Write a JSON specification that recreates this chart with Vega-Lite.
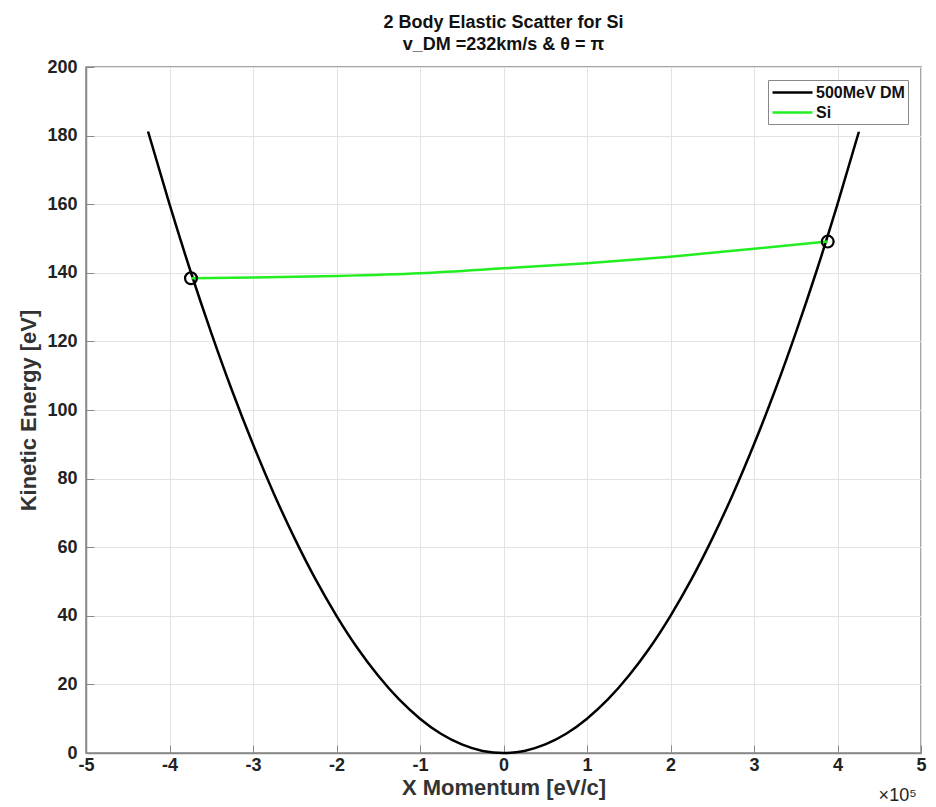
{
  "$schema": "https://vega.github.io/schema/vega-lite/v6.json",
  "autosize": "none",
  "width": 835,
  "height": 686,
  "padding": {"left": 86, "top": 67, "right": 15, "bottom": 54},
  "background": "white",
  "config": {
    "font": "Liberation Sans",
    "view": {"stroke": "#888888", "strokeWidth": 1.5},
    "axis": {
      "labelFont": "Liberation Sans",
      "labelFontWeight": "bold",
      "labelFontSize": 18,
      "labelColor": "#222222",
      "titleFont": "Liberation Sans",
      "titleFontWeight": "bold",
      "titleFontSize": 22,
      "titleColor": "#333333",
      "gridColor": "#e3e3e3",
      "gridWidth": 1,
      "domainColor": "#888888",
      "domainWidth": 1.5,
      "tickColor": "#888888",
      "tickSize": -8,
      "tickWidth": 1
    }
  },
  "title": {
    "text": ["2 Body Elastic Scatter for Si", "v_DM =232km/s &  θ = π"],
    "fontSize": 18,
    "fontWeight": "bold",
    "font": "Liberation Sans",
    "color": "#111111",
    "lineHeight": 22,
    "anchor": "middle",
    "offset": 4
  },
  "datasets": {
    "curves": [
      {"series": "500MeV DM", "p": -4.257, "ke": 181.2},
      {"series": "500MeV DM", "p": -4.0, "ke": 160.0},
      {"series": "500MeV DM", "p": -3.75, "ke": 140.6},
      {"series": "500MeV DM", "p": -3.5, "ke": 122.5},
      {"series": "500MeV DM", "p": -3.25, "ke": 105.6},
      {"series": "500MeV DM", "p": -3.0, "ke": 90.0},
      {"series": "500MeV DM", "p": -2.75, "ke": 75.6},
      {"series": "500MeV DM", "p": -2.5, "ke": 62.5},
      {"series": "500MeV DM", "p": -2.25, "ke": 50.6},
      {"series": "500MeV DM", "p": -2.0, "ke": 40.0},
      {"series": "500MeV DM", "p": -1.75, "ke": 30.6},
      {"series": "500MeV DM", "p": -1.5, "ke": 22.5},
      {"series": "500MeV DM", "p": -1.25, "ke": 15.6},
      {"series": "500MeV DM", "p": -1.0, "ke": 10.0},
      {"series": "500MeV DM", "p": -0.75, "ke": 5.6},
      {"series": "500MeV DM", "p": -0.5, "ke": 2.5},
      {"series": "500MeV DM", "p": -0.25, "ke": 0.6},
      {"series": "500MeV DM", "p": 0.0, "ke": 0.0},
      {"series": "500MeV DM", "p": 0.25, "ke": 0.6},
      {"series": "500MeV DM", "p": 0.5, "ke": 2.5},
      {"series": "500MeV DM", "p": 0.75, "ke": 5.6},
      {"series": "500MeV DM", "p": 1.0, "ke": 10.0},
      {"series": "500MeV DM", "p": 1.25, "ke": 15.6},
      {"series": "500MeV DM", "p": 1.5, "ke": 22.5},
      {"series": "500MeV DM", "p": 1.75, "ke": 30.6},
      {"series": "500MeV DM", "p": 2.0, "ke": 40.0},
      {"series": "500MeV DM", "p": 2.25, "ke": 50.6},
      {"series": "500MeV DM", "p": 2.5, "ke": 62.5},
      {"series": "500MeV DM", "p": 2.75, "ke": 75.6},
      {"series": "500MeV DM", "p": 3.0, "ke": 90.0},
      {"series": "500MeV DM", "p": 3.25, "ke": 105.6},
      {"series": "500MeV DM", "p": 3.5, "ke": 122.5},
      {"series": "500MeV DM", "p": 3.75, "ke": 140.6},
      {"series": "500MeV DM", "p": 4.0, "ke": 160.0},
      {"series": "500MeV DM", "p": 4.257, "ke": 181.2},
      {"series": "Si", "p": -3.743, "ke": 138.4},
      {"series": "Si", "p": -3.0, "ke": 138.6},
      {"series": "Si", "p": -2.0, "ke": 139.1},
      {"series": "Si", "p": -1.0, "ke": 139.9},
      {"series": "Si", "p": 0.0, "ke": 141.3},
      {"series": "Si", "p": 1.0, "ke": 142.8},
      {"series": "Si", "p": 2.0, "ke": 144.7},
      {"series": "Si", "p": 3.0, "ke": 147.0},
      {"series": "Si", "p": 3.883, "ke": 149.1}
    ],
    "circles": [
      {"p": -3.743, "ke": 138.4},
      {"p": 3.883, "ke": 149.1}
    ],
    "note": [
      {"p": 4.72, "ke": -12.4, "label": "×10⁵"}
    ]
  },
  "layer": [
    {
      "data": {"name": "curves"},
      "mark": {"type": "line", "strokeWidth": 2.5, "interpolate": "monotone"},
      "encoding": {
        "x": {
          "field": "p", "type": "quantitative",
          "scale": {"domain": [-5, 5], "nice": false, "zero": false},
          "axis": {
            "values": [-5, -4, -3, -2, -1, 0, 1, 2, 3, 4, 5],
            "labelExpr": "datum.value < 0 ? '-' + format(-datum.value, 'd') : format(datum.value, 'd')",
            "title": "X Momentum  [eV/c]", "labelPadding": 11, "titlePadding": 3, "labelFlush": false
          }
        },
        "y": {
          "field": "ke", "type": "quantitative",
          "scale": {"domain": [0, 200], "nice": false},
          "axis": {"values": [0, 20, 40, 60, 80, 100, 120, 140, 160, 180, 200], "title": "Kinetic Energy [eV]", "labelPadding": 17, "titlePadding": 6, "labelFlush": false}
        },
        "color": {
          "field": "series", "type": "nominal",
          "scale": {"domain": ["500MeV DM", "Si"], "range": ["#000000", "#22ee22"]},
          "legend": {
            "title": null,
            "orient": "top-right",
            "offset": 13,
            "symbolType": "M-1,0H4",
            "symbolSize": 256,
            "symbolStrokeWidth": 2.5,
            "labelFont": "Liberation Sans",
            "labelFontWeight": "bold",
            "labelFontSize": 16,
            "labelColor": "#111111",
            "labelOffset": 26,
            "labelLimit": 300,
            "rowPadding": 2,
            "strokeColor": "#888888",
            "fillColor": "white",
            "padding": 3
          }
        }
      }
    },
    {
      "data": {"name": "circles"},
      "mark": {"type": "point", "shape": "circle", "filled": false, "color": "#000000", "opacity": 1, "strokeWidth": 2.2, "size": 140},
      "encoding": {
        "x": {"field": "p", "type": "quantitative"},
        "y": {"field": "ke", "type": "quantitative"}
      }
    },
    {
      "data": {"name": "note"},
      "mark": {"type": "text", "fontSize": 18, "font": "Liberation Sans", "color": "#222222", "align": "center", "baseline": "middle"},
      "encoding": {
        "x": {"field": "p", "type": "quantitative"},
        "y": {"field": "ke", "type": "quantitative"},
        "text": {"field": "label"}
      }
    }
  ]
}
